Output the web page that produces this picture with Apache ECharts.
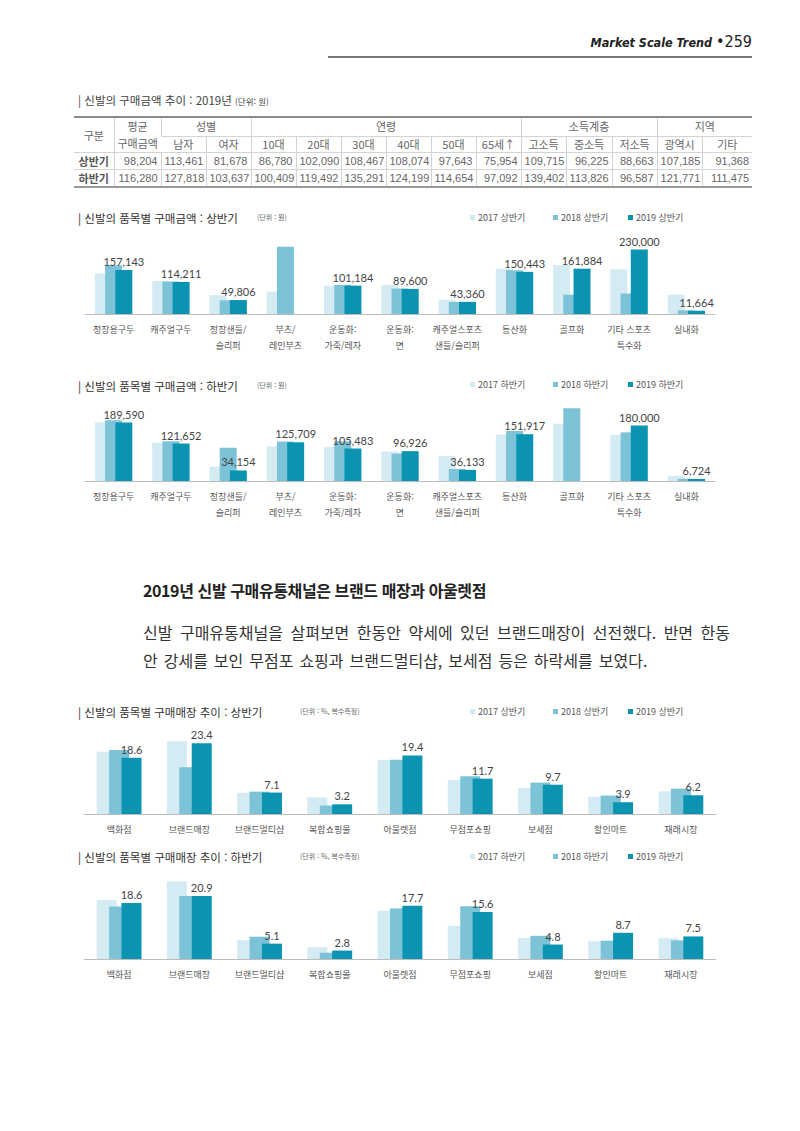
<!DOCTYPE html>
<html lang="ko">
<head>
<meta charset="utf-8">
<title>Market Scale Trend 259</title>
<script src="https://cdn.jsdelivr.net/npm/echarts@6/dist/echarts.min.js"></script>
<style>
  html, body { margin: 0; padding: 0; background: #fff; }
  body { width: 800px; height: 1131px; position: relative; overflow: hidden; font-family: "Noto Sans CJK KR", sans-serif; color: #333; }
  #chart { position: absolute; left: 0; top: 0; width: 800px; height: 1131px; }
  .abs { position: absolute; z-index: 2; }
  #pageHead { right: 48px; top: 32px; font-family: "DejaVu Sans Condensed", sans-serif; font-style: italic; font-weight: bold; font-size: 12.5px; color: #222; white-space: nowrap; }
  #pageHead .num { font-style: normal; font-weight: normal; font-size: 16px; }
  #pageRule { left: 328px; top: 56px; width: 424px; height: 2px; background: #777; }
  #tableTitle { left: 78px; top: 92px; font-size: 11.5px; color: #444; white-space: nowrap; }
  #tableTitle small { font-size: 8.5px; }
  #spendTable { left: 74px; top: 116px; width: 678px; border-collapse: collapse; table-layout: fixed; font-size: 11px; color: #666; }
  #spendTable td { border-left: 1px solid #d4d4d4; border-bottom: 1px solid #d4d4d4; padding: 0 3px; white-space: nowrap; line-height: 1; overflow: hidden; }
  #spendTable td:first-child { border-left: none; }
  #spendTable tr.h1 td { border-top: 2px solid #8a8a8a; height: 17px; text-align: center; }
  #spendTable tr.h1 td.two { line-height: 17px; }
  #spendTable tr.h2 td { height: 15px; text-align: center; }
  #spendTable tr.d td { height: 16px; text-align: right; font-family: "Liberation Sans", sans-serif; font-size: 11px; }
  #spendTable tr.d td.lab { text-align: center; font-family: "Noto Sans CJK KR", sans-serif; font-size: 11px; color: #555; font-weight: bold; }
  #spendTable tr.last td { border-bottom: 2px solid #9a9a9a; }
  #heading { left: 143px; top: 578px; font-size: 16px; font-weight: bold; color: #222; white-space: nowrap; letter-spacing: -0.4px; }
  #para { left: 143px; top: 618px; width: 587px; font-size: 16px; line-height: 28px; color: #333; font-weight: 400; }
  #para .l1 { text-align: justify; text-align-last: justify; }
  #para .l2 { word-spacing: 1.5px; white-space: nowrap; }
</style>
</head>
<body>
<div id="chart"></div>
<div id="pageHead" class="abs">Market Scale Trend <span class="num">•259</span></div>
<div id="pageRule" class="abs"></div>
<div id="tableTitle" class="abs">| 신발의 구매금액 추이 : 2019년 <small>(단위: 원)</small></div>
<table id="spendTable" class="abs"></table>
<div id="heading" class="abs">2019년 신발 구매유통채널은 브랜드 매장과 아울렛점</div>
<div id="para" class="abs">
  <div class="l1">신발 구매유통채널을 살펴보면 한동안 약세에 있던 브랜드매장이 선전했다. 반면 한동</div>
  <div class="l2">안 강세를 보인 무점포 쇼핑과 브랜드멀티샵, 보세점 등은 하락세를 보였다.</div>
</div>
<script>
// --- table data ---
const tableGroups = ['구분', '평균<br>구매금액', '성별', '연령', '소득계층', '지역'];
const tableGroupSpans = [1, 1, 2, 6, 3, 2];
const tableSubHeads = ['남자', '여자', '10대', '20대', '30대', '40대', '50대', '65세↑', '고소득', '중소득', '저소득', '광역시', '기타'];
const rowLabels = ['상반기', '하반기'];
const avgSpendFirst = [98204, 113461, 81678, 86780, 102090, 108467, 108074, 97643, 75954, 109715, 96225, 88663, 107185, 91368];
const avgSpendSecond = [116280, 127818, 103637, 100409, 119492, 135291, 124199, 114654, 97092, 139402, 113826, 96587, 121771, 111475];

// --- item charts ---
const itemCategories = ['정장용구두', '캐주얼구두', '정장샌들/\n슬리퍼', '부츠/\n레인부츠', '운동화:\n가죽/레자', '운동화:\n면', '캐주얼스포츠\n샌들/슬리퍼', '등산화', '골프화', '기타 스포츠\n특수화', '실내화'];
const firstHalfNames = ['2017 상반기', '2018 상반기', '2019 상반기'];
const secondHalfNames = ['2017 하반기', '2018 하반기', '2019 하반기'];
const spendH1y2017 = [145000, 118000, 67000, 80000, 101000, 104000, 51000, 162000, 175000, 160000, 69000];
const spendH1y2018 = [174000, 116000, 49000, 240000, 104000, 91000, 43000, 156000, 69000, 73000, 13000];
const spendH1y2019 = [157143, 114211, 49806, null, 101184, 89600, 43360, 150443, 161884, 230000, 11664];
const spendH2y2017 = [191000, 124000, 47000, 113000, 110000, 96000, 81000, 151000, 186000, 150000, 17000];
const spendH2y2018 = [197000, 129000, 108000, 128000, 129000, 89000, 39000, 162000, 236000, 158000, 7000];
const spendH2y2019 = [189590, 121652, 34154, 125709, 105483, 96926, 36133, 151917, null, 180000, 6724];

// --- store charts ---
const storeCategories = ['백화점', '브랜드매장', '브랜드멀티샵', '복합쇼핑몰', '아울렛점', '무점포쇼핑', '보세점', '할인마트', '재래시장'];
const storeH1y2017 = [20.6, 24.1, 7.0, 5.5, 17.9, 11.3, 8.6, 5.7, 7.5];
const storeH1y2018 = [21.2, 15.5, 7.4, 2.8, 18.0, 12.5, 10.4, 6.1, 8.4];
const storeH1y2019 = [18.6, 23.4, 7.1, 3.2, 19.4, 11.7, 9.7, 3.9, 6.2];
const storeH2y2017 = [19.6, 25.7, 6.2, 3.9, 16.0, 11.0, 7.0, 5.9, 6.9];
const storeH2y2018 = [17.4, 20.9, 7.4, 2.1, 16.8, 17.5, 7.7, 6.1, 6.2];
const storeH2y2019 = [18.6, 20.9, 5.1, 2.8, 17.7, 15.6, 4.8, 8.7, 7.5];

const COLORS = ['#d4ebf3', '#7cc3d8', '#0b93b2'];
const FONT = '"Noto Sans CJK KR", sans-serif';
const NUM_FONT = 'Lato, "Noto Sans", sans-serif';
const COL_WIDTHS = [40, 47, 45, 45, 45, 45, 45, 45, 45, 45, 45, 46, 45, 45, 50];

function fmtWon(v) { return Number(v).toLocaleString('en-US'); }
function fmtPct(v) { return Number(v).toFixed(1); }

function buildTable() {
  const t = document.getElementById('spendTable');
  let html = '<colgroup>' + COL_WIDTHS.map((w) => `<col style="width:${w}px">`).join('') + '</colgroup>';
  html += '<tr class="h1">' + tableGroups.map((g, i) => {
    const rs = i < 2 ? ' rowspan="2" class="two"' : '';
    const cs = tableGroupSpans[i] > 1 ? ` colspan="${tableGroupSpans[i]}"` : '';
    return `<td${rs}${cs}>${g}</td>`;
  }).join('') + '</tr>';
  html += '<tr class="h2">' + tableSubHeads.map((s) => `<td>${s}</td>`).join('') + '</tr>';
  [avgSpendFirst, avgSpendSecond].forEach((row, r) => {
    html += `<tr class="d${r === 1 ? ' last' : ''}"><td class="lab">${rowLabels[r]}</td>` +
      row.map((v) => `<td>${fmtWon(v)}</td>`).join('') + '</tr>';
  });
  t.innerHTML = html;
}

function makeTitle(text, x, cy, size, color) {
  return { text, left: x, top: cy - size * 0.62, padding: 0, textStyle: { fontSize: size, fontWeight: 'normal', color, fontFamily: FONT } };
}

function makeLegends(names, cy) {
  const xs = [470, 553, 628];
  return names.map((n, i) => ({
    data: [n], left: xs[i], top: cy - 6, padding: 0, icon: 'rect', itemWidth: 5, itemHeight: 5, itemGap: 0,
    selectedMode: false, textStyle: { fontSize: 9, color: '#555', fontFamily: FONT, padding: [0, 0, 0, -2] }
  }));
}

function makeSeries(idx, names, values, barWidth, barGap, fmt) {
  return names.map((name, i) => ({
    name, type: 'bar', xAxisIndex: idx, yAxisIndex: idx,
    barWidth, barGap,
    itemStyle: { color: COLORS[i] },
    data: values[i],
    z: 2 + i,
    label: i === 2
      ? { show: true, position: 'top', distance: 3, color: '#444', fontSize: 11, fontFamily: NUM_FONT, formatter: (p) => fmt(p.value) }
      : { show: false }
  }));
}

function makeX(idx, cats) {
  return {
    type: 'category', gridIndex: idx, data: cats,
    axisLine: { lineStyle: { color: '#bdbdbd', width: 1 } },
    axisTick: { show: false },
    axisLabel: { color: '#555', fontSize: 9, lineHeight: 16, margin: 7, fontFamily: FONT, interval: 0 }
  };
}

function makeY(idx, max) {
  return { type: 'value', gridIndex: idx, min: 0, max, show: false, splitLine: { show: false } };
}

buildTable();

const chart = echarts.init(document.getElementById('chart'), undefined, { renderer: 'svg' });
chart.setOption({
  animation: false,
  color: COLORS,
  textStyle: { fontFamily: FONT },
  title: [
    makeTitle('| 신발의 품목별 구매금액 : 상반기', 78, 219, 11.5, '#333'),
    makeTitle('(단위 : 원)', 257, 218, 7, '#666'),
    makeTitle('| 신발의 품목별 구매금액 : 하반기', 78, 387, 11.5, '#333'),
    makeTitle('(단위 : 원)', 257, 386, 7, '#666'),
    makeTitle('| 신발의 품목별 구매매장 추이 : 상반기', 78, 713, 11.5, '#333'),
    makeTitle('(단위 : %, 복수측정)', 300, 712, 7, '#666'),
    makeTitle('| 신발의 품목별 구매매장 추이 : 하반기', 78, 858, 11.5, '#333'),
    makeTitle('(단위 : %, 복수측정)', 300, 857, 7, '#666')
  ],
  legend: [
    ...makeLegends(firstHalfNames, 219),
    ...makeLegends(secondHalfNames, 386),
    ...makeLegends(firstHalfNames, 713),
    ...makeLegends(secondHalfNames, 858)
  ],
  grid: [
    { left: 85, width: 630, top: 244, height: 70 },
    { left: 85, width: 630, top: 404, height: 77 },
    { left: 84, width: 632, top: 738.5, height: 75.5 },
    { left: 84, width: 632, top: 880.7, height: 78.3 }
  ],
  xAxis: [makeX(0, itemCategories), makeX(1, itemCategories), makeX(2, storeCategories), makeX(3, storeCategories)],
  yAxis: [makeY(0, 250000), makeY(1, 250000), makeY(2, 25), makeY(3, 26)],
  series: [
    ...makeSeries(0, firstHalfNames, [spendH1y2017, spendH1y2018, spendH1y2019], 17, '-40%', fmtWon),
    ...makeSeries(1, secondHalfNames, [spendH2y2017, spendH2y2018, spendH2y2019], 17, '-40%', fmtWon),
    ...makeSeries(2, firstHalfNames, [storeH1y2017, storeH1y2018, storeH1y2019], 20, '-38%', fmtPct),
    ...makeSeries(3, secondHalfNames, [storeH2y2017, storeH2y2018, storeH2y2019], 20, '-38%', fmtPct)
  ]
});
</script>
</body>
</html>
